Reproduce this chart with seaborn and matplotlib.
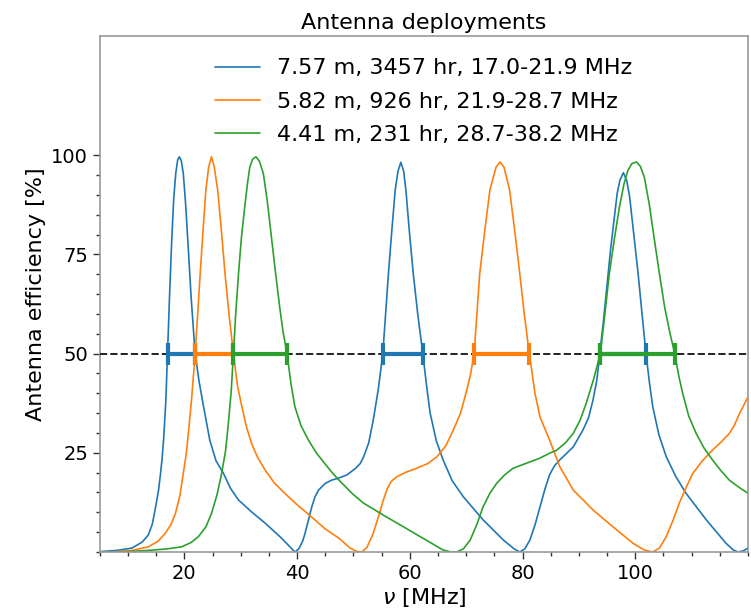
import numpy as np
import pandas as pd
import seaborn as sns
import matplotlib
matplotlib.use("Agg")
import matplotlib.pyplot as plt
from matplotlib.ticker import MultipleLocator, FixedLocator

# ---- data ----
labels = ["7.57 m, 3457 hr, 17.0-21.9 MHz",
          "5.82 m, 926 hr, 21.9-28.7 MHz",
          "4.41 m, 231 hr, 28.7-38.2 MHz"]
colors = ["#1f77b4", "#ff7f0e", "#2ca02c"]

blue_x = [5.0, 8.0, 10.7, 12.5, 13.6, 14.3, 14.9, 15.4, 15.7, 16.0, 16.3, 16.7,
          17.0, 17.4, 17.75, 18.1, 18.46, 18.8, 19.1, 19.45, 19.8, 20.2, 20.6,
          21.2, 21.9, 22.6, 23.4, 24.5, 25.6, 26.9, 28.2, 29.6, 32.0, 34.3, 37.0,
          38.8, 39.6, 40.3, 41.0, 41.4, 42.0, 42.6, 43.2, 43.8, 45.0, 46.1, 47.3,
          48.8, 50.3, 51.2, 51.8, 52.7, 53.5, 54.4, 55.2, 55.7, 56.2, 56.8, 57.4,
          57.9, 58.4, 58.9, 59.3, 59.9, 60.6, 61.4, 62.3, 63.0, 63.6, 64.7, 65.9,
          67.5, 69.5, 73.0, 76.6, 78.5, 79.5, 80.4, 81.3, 82.2, 83.1, 84.0, 84.8,
          85.7, 86.6, 89.0, 90.7, 91.7, 92.5, 93.2, 93.7, 94.3, 94.9, 95.6, 96.3,
          96.8, 97.3, 97.9, 98.5, 99.0, 99.7, 100.5, 101.2, 101.9, 102.5, 103.1,
          104.2, 105.5, 107.2, 109.0, 112.6, 116.1, 117.4, 118.2, 119.2, 120.0]
blue_y = [0.1, 0.4, 1.0, 2.5, 4.3, 7.0, 11.4, 15.5, 19.0, 23.0, 28.2, 38.0,
          50.0, 66.0, 78.6, 89.0, 95.4, 98.8, 99.6, 98.6, 95.4, 88.0, 78.6,
          64.0, 50.0, 43.0, 36.6, 28.2, 23.0, 19.9, 16.0, 13.1, 10.0, 7.3, 3.8,
          1.2, 0.0, 0.8, 2.8, 4.7, 8.0, 11.4, 14.0, 15.6, 17.3, 18.1, 18.6,
          19.4, 21.0, 22.3, 24.0, 27.5, 33.2, 41.0, 50.0, 60.0, 70.2, 81.0, 91.2,
          96.0, 98.2, 96.0, 91.2, 81.0, 70.2, 60.0, 50.0, 41.5, 35.0, 28.0, 23.2,
          18.0, 13.9, 8.1, 3.0, 0.8, 0.0, 0.8, 3.0, 6.8, 11.4, 16.0, 19.5,
          21.8, 23.2, 26.5, 30.7, 33.8, 38.3, 43.5, 50.0, 57.5, 66.0, 76.0, 84.5,
          90.5, 93.8, 95.6, 93.5, 89.5, 80.5, 70.2, 60.0, 50.0, 42.8, 36.6,
          29.5, 24.0, 19.0, 14.8, 8.1, 2.2, 0.5, 0.0, 0.3, 1.0]

orange_x = [5.0, 8.0, 10.7, 13.6, 15.3, 16.6, 17.6, 18.4, 19.2, 19.8, 20.3, 20.7,
            21.3, 21.9, 22.4, 22.8, 23.3, 23.8, 24.3, 24.8, 25.3, 25.9, 26.5,
            27.2, 27.9, 28.7, 29.4, 30.2, 31.0, 31.9, 33.0, 34.3, 35.9, 37.8,
            40.0, 42.5, 45.0, 47.3, 49.4, 50.5, 51.5, 52.4, 53.5, 54.4, 55.3,
            56.0, 56.7, 57.7, 59.3, 61.2, 63.2, 64.8, 66.4, 67.7, 69.0, 70.1,
            70.8, 71.4, 71.9, 72.4, 73.3, 74.2, 75.3, 76.0, 76.7, 77.7, 78.6,
            79.5, 80.3, 81.2, 82.2, 83.1, 84.8, 86.6, 89.0, 92.5, 96.0, 99.6,
            101.6, 103.1, 104.3, 105.5, 106.7, 107.8, 109.0, 110.2, 111.8, 113.7,
            115.3, 116.7, 117.6, 118.5, 120.0]
orange_y = [0.0, 0.1, 0.4, 1.3, 2.7, 4.7, 6.9, 9.7, 14.2, 19.8, 24.5, 29.9,
            39.0, 50.0, 61.0, 70.2, 81.0, 91.2, 97.0, 99.6, 97.0, 91.2, 82.0,
            70.2, 60.0, 50.0, 42.0, 36.6, 31.6, 27.4, 23.8, 20.7, 17.5, 14.8,
            11.9, 8.9, 5.8, 3.6, 1.0, 0.2, 0.0, 1.2, 4.7, 8.8, 13.1,
            16.0, 17.8, 19.0, 20.1, 21.1, 22.3, 24.0, 26.8, 30.7, 35.0, 40.8,
            45.0, 50.0, 60.0, 70.2, 81.0, 91.2, 97.0, 98.3, 97.0, 91.2, 81.0,
            70.2, 60.0, 50.0, 40.0, 34.0, 28.2, 21.5, 15.6, 10.6, 6.4, 2.2,
            0.5, 0.0, 1.0, 3.9, 8.0, 12.3, 16.2, 19.8, 22.8, 25.7,
            27.8, 29.9, 32.0, 34.9, 39.1]

green_x = [5.0, 10.0, 13.6, 17.0, 19.5, 21.2, 22.5, 23.8, 24.8, 25.8, 26.6, 27.3,
           27.8, 28.3, 28.7, 29.1, 29.6, 30.1, 30.7, 31.2, 31.6, 32.1, 32.7, 33.3,
           34.0, 34.7, 35.5, 36.2, 36.9, 37.5, 38.2, 38.9, 39.6, 40.7, 42.0, 43.4,
           44.9, 46.1, 47.3, 49.8, 51.8, 55.3, 58.8, 62.4, 65.9, 67.2, 68.3, 69.5,
           70.7, 71.9, 73.0, 74.2, 75.4, 76.8, 78.3, 81.3, 83.0, 84.8, 86.0, 87.6,
           89.0, 90.2, 91.3, 92.6, 93.8, 94.6, 95.4, 96.3, 97.2, 98.0, 98.7, 99.4,
           100.2, 100.9, 101.6, 102.5, 103.4, 104.3, 105.2, 106.1, 107.0, 107.7,
           108.4, 109.5, 110.8, 112.2, 113.7, 115.2, 116.7, 118.4, 120.0]
green_y = [0.0, 0.1, 0.4, 0.8, 1.3, 2.4, 3.9, 6.3, 9.7, 14.5, 19.8, 25.5,
           32.4, 40.5, 50.0, 60.0, 70.2, 79.0, 87.0, 93.0, 97.0, 99.0, 99.6, 98.5,
           95.4, 88.5, 78.6, 70.0, 61.8, 55.5, 50.0, 42.5, 36.6, 31.8, 28.2, 25.0,
           22.3, 20.2, 18.3, 14.7, 12.3, 9.3, 6.4, 3.4, 0.5, 0.05, 0.0, 0.8,
           3.0, 7.0, 11.4, 14.8, 17.3, 19.4, 21.1, 22.7, 23.6, 24.9, 25.6, 27.5,
           29.9, 33.2, 37.5, 43.5, 50.0, 60.0, 70.2, 79.0, 87.0, 92.8, 96.2, 97.9,
           98.3, 97.2, 94.5, 87.5, 78.6, 70.0, 61.8, 55.5, 50.0, 44.5,
           40.0, 34.2, 29.9, 26.2, 23.2, 20.5, 18.1, 16.3, 14.8]

# half-efficiency bands (MHz)
blue_bands = [(17.0, 21.9), (55.2, 62.3), (93.7, 101.9)]
orange_bands = [(21.9, 28.7), (71.4, 81.2)]
green_bands = [(28.7, 38.2), (93.8, 107.0)]

threshold = 50

curves = [(blue_x, blue_y), (orange_x, orange_y), (green_x, green_y)]
bands = [blue_bands, orange_bands, green_bands]

# ---- plotting ----
sns.set_style("white")
plt.rcParams["font.family"] = ["DejaVu Sans"]
plt.rcParams["mathtext.fontset"] = "dejavusans"
plt.rcParams["text.color"] = "black"
plt.rcParams["axes.labelcolor"] = "black"
plt.rcParams["xtick.color"] = "black"
plt.rcParams["ytick.color"] = "black"

fig = plt.figure(figsize=(7.51, 6.13), dpi=100)
ax = fig.add_axes([0.133, 0.0995, 0.863, 0.8415])

for (xs, ys), lab, col in zip(curves, labels, colors):
    df = pd.DataFrame({"nu": xs, "eff": ys})
    sns.lineplot(data=df, x="nu", y="eff", ax=ax, color=col, lw=1.2,
                 label=lab, sort=True)

ax.axhline(threshold, color="#222222", ls="--", lw=1.4, zorder=3)

for bl, col in zip(bands, colors):
    for lo, hi in bl:
        ax.errorbar([(lo + hi) / 2], [threshold], xerr=[(hi - lo) / 2],
                    fmt="none", ecolor=col, elinewidth=3, capsize=8,
                    capthick=3, zorder=4)

ax.set_xlim(5, 120)
ax.set_ylim(0, 130)
ax.set_xticks([20, 40, 60, 80, 100])
ax.set_yticks([25, 50, 75, 100])
ax.xaxis.set_minor_locator(MultipleLocator(5))
ax.yaxis.set_minor_locator(FixedLocator(list(range(0, 101, 5))))
ax.tick_params(axis="both", which="major", labelsize=14, length=5,
               width=1, color="#333333", direction="out",
               bottom=True, left=True)
ax.tick_params(axis="both", which="minor", length=3, width=1,
               color="#333333", direction="out", bottom=True, left=True)
for s in ax.spines.values():
    s.set_color("#999999")
    s.set_linewidth(1.2)

ax.set_xlabel(r"$\nu$ [MHz]", fontsize=16, labelpad=2)
ax.set_ylabel("Antenna efficiency [%]", fontsize=16)
ax.set_title("Antenna deployments", fontsize=16, pad=5)

leg = ax.legend(loc="upper center", fontsize=16, frameon=False,
                labelspacing=0.6, borderaxespad=0.6)
for line in leg.get_lines():
    line.set_linewidth(1.2)

fig.savefig("out.png", dpi=100)
